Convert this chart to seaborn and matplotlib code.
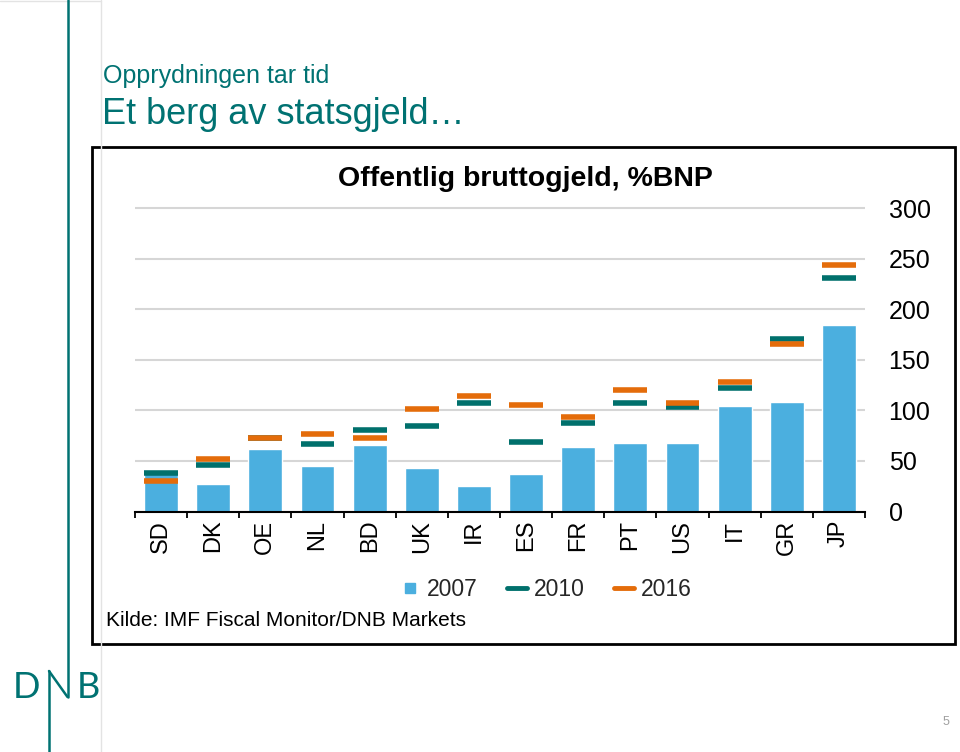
import numpy as np
import matplotlib
matplotlib.use('Agg')
import matplotlib.pyplot as plt
import seaborn as sns
from matplotlib.lines import Line2D
from matplotlib.patches import Rectangle
from matplotlib.ticker import FixedLocator

# data (% of GDP)
countries = ['SD', 'DK', 'OE', 'NL', 'BD', 'UK', 'IR', 'ES', 'FR', 'PT', 'US', 'IT', 'GR', 'JP']
debt_2007 = [41, 27, 62, 45, 66, 43, 25, 37, 64, 68, 68, 104.5, 108.5, 184]
debt_2010 = [38, 46, 72.5, 66.5, 81, 85, 107.5, 68.5, 87, 107.5, 103.5, 122, 171, 230.5]
debt_2016 = [30, 52, 73, 77, 73, 101, 114, 105.5, 93.5, 120, 107.5, 128, 165.5, 244]
years = ['2007', '2010', '2016']
y_ticks = [0, 50, 100, 150, 200, 250, 300]

blue = '#4BAFDF'
teal = '#00706C'
orange = '#E46C0A'
dnb = '#007272'

sns.set_theme(style='white')
plt.rcParams['font.family'] = ['Liberation Sans', 'DejaVu Sans']

fig = plt.figure(figsize=(9.6, 7.52), dpi=100)
ax = fig.add_axes([135 / 960, 1 - 511.5 / 752, 730 / 960, 305.5 / 752])

sns.barplot(x=countries, y=debt_2007, color=blue, width=0.65, saturation=1, ax=ax, zorder=2)
xpos = np.arange(len(countries))
ax.hlines(debt_2010, xpos - 0.325, xpos + 0.325, color=teal, lw=4, zorder=3)
ax.hlines(debt_2016, xpos - 0.325, xpos + 0.325, color=orange, lw=4, zorder=4)

ax.set_xlim(-0.5, len(countries) - 0.5)
ax.set_ylim(0, 302)
ax.set_yticks(y_ticks)
ax.yaxis.grid(True, color='#D6D6D6', lw=1.5)
ax.set_axisbelow(True)
ax.set_xlabel('')
ax.set_ylabel('')
for s in ['top', 'left', 'right']:
    ax.spines[s].set_visible(False)
ax.spines['bottom'].set_color('black')
ax.spines['bottom'].set_linewidth(1.5)
ax.spines['bottom'].set_zorder(5)

ax.xaxis.set_minor_locator(FixedLocator(np.arange(-0.5, len(countries), 1)))
ax.tick_params(axis='x', which='major', length=0, pad=6, labelsize=17, rotation=90, colors='black')
ax.tick_params(axis='x', which='minor', bottom=True, length=4, width=1.3, color='black', direction='out')
ax.yaxis.tick_right()
ax.tick_params(axis='y', length=0, pad=17, labelsize=18, colors='black')

handles = [Line2D([], [], marker='s', ls='none', color=blue, markersize=7.5),
           Line2D([], [], color=teal, lw=3.5),
           Line2D([], [], color=orange, lw=3.5)]
fig.legend(handles, years, loc='center', bbox_to_anchor=(546 / 960, 1 - 590 / 752), ncol=3,
           frameon=False, fontsize=16.5, handlelength=0.85, handletextpad=0.3, columnspacing=1.3)

fig.text(525 / 960, 1 - 179 / 752, 'Offentlig bruttogjeld, %BNP', ha='center', va='center',
         fontsize=20.5, fontweight='bold', color='black')
fig.text(106 / 960, 1 - 621 / 752, 'Kilde: IMF Fiscal Monitor/DNB Markets', ha='left', va='center',
         fontsize=15, color='black')

# chart frame
fig.add_artist(Rectangle((92 / 960, 1 - 644 / 752), 863 / 960, 497 / 752, transform=fig.transFigure,
                         fill=False, ec='black', lw=2))

# slide decoration
fig.add_artist(Line2D([101 / 960, 101 / 960], [0, 1], transform=fig.transFigure, color='#E3E3E3', lw=1))
fig.add_artist(Line2D([0, 101 / 960], [0.999, 0.999], transform=fig.transFigure, color='#E3E3E3', lw=1))
fig.add_artist(Line2D([67.5 / 960, 67.5 / 960], [1, 1 - 697 / 752], transform=fig.transFigure, color=dnb, lw=1.8))
fig.add_artist(Line2D([49 / 960, 49 / 960], [1 - 671 / 752, 0], transform=fig.transFigure, color=dnb, lw=1.8))
fig.add_artist(Line2D([49 / 960, 67.5 / 960], [1 - 671 / 752, 1 - 697 / 752], transform=fig.transFigure,
                      color=dnb, lw=1.8))
fig.text(13 / 960, 1 - 697.5 / 752, 'D', ha='left', va='baseline', fontsize=26, color=dnb,
         family=['Lato', 'DejaVu Sans'])
fig.text(77 / 960, 1 - 697.5 / 752, 'B', ha='left', va='baseline', fontsize=26, color=dnb,
         family=['Lato', 'DejaVu Sans'])

fig.text(103 / 960, 1 - 83 / 752, 'Opprydningen tar tid', ha='left', va='baseline', fontsize=18, color=dnb)
fig.text(102 / 960, 1 - 124 / 752, 'Et berg av statsgjeld\u2026', ha='left', va='baseline', fontsize=26, color=dnb)
fig.text(946 / 960, 1 - 722 / 752, '5', ha='center', va='center', fontsize=9, color='#A0A0A0')

fig.savefig('out.png', dpi=100)
